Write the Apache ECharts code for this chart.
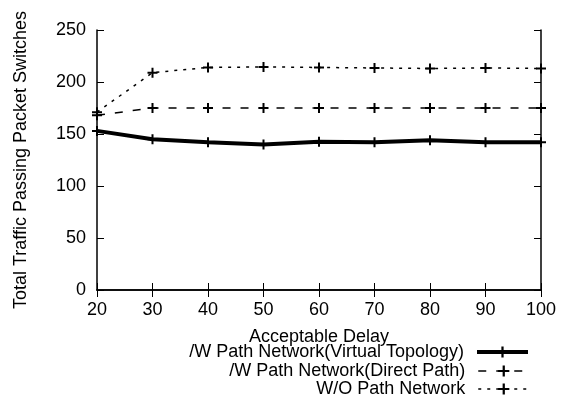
<!DOCTYPE html>
<html>
<head>
<meta charset="utf-8">
<script src="https://cdn.jsdelivr.net/npm/echarts@6/dist/echarts.min.js"></script>
<style>
  html, body { margin: 0; padding: 0; background: #fff; }
  #chart { width: 574px; height: 398px; }
</style>
</head>
<body>
<div id="chart"></div>
<script>
// data
var delays = [20, 30, 40, 50, 60, 70, 80, 90, 100];
var virtualTopology = [153, 145, 142, 140, 142.5, 142, 144, 142, 142];
var directPath = [168, 175, 175, 175, 175, 175, 175, 175, 175];
var withoutPath = [171, 209, 214, 214.5, 214, 213.5, 213, 213.5, 213];

var seriesNames = [
    '/W Path Network(Virtual Topology)',
    '/W Path Network(Direct Path)',
    'W/O Path Network'
];

var plus = 'path://M4,0h2v4h4v2h-4v4h-2v-4h-4v-2h4z';
var font = 'Liberation Sans, Arial, sans-serif';

function pairs(vals) {
    return delays.map(function (d, i) { return [d, vals[i]]; });
}

var chart = echarts.init(document.getElementById('chart'));

var tickStyle = { show: true, inside: true, length: 7, lineStyle: { color: '#000', width: 1 } };
var lineStyle = { show: true, lineStyle: { color: '#000', width: 1.5 } };

// one legend per row so they stack like the gnuplot key
var legendTops = [342, 361, 379];
var legends = seriesNames.map(function (name, i) {
    return {
        orient: 'vertical',
        right: 44, top: legendTops[i],
        padding: 0,
        align: 'right',
        itemWidth: 51, itemHeight: 14,
        lineStyle: { width: 'inherit' },
        textStyle: { color: '#000', fontSize: 18, fontFamily: font, lineHeight: 20, padding: [0, 8, 0, 0] },
        data: [name]
    };
});

var option = {
    animation: false,
    backgroundColor: '#fff',
    textStyle: { fontFamily: font },
    grid: { left: 97, right: 33, top: 30, bottom: 108 },
    xAxis: [{
        type: 'value', min: 20, max: 100, interval: 10,
        axisLine: lineStyle, axisTick: tickStyle, splitLine: { show: false },
        axisLabel: { color: '#000', fontSize: 18, fontFamily: font, margin: 11 }
    }, {
        type: 'value', position: 'top', min: 20, max: 100, interval: 10,
        axisLine: lineStyle, axisTick: tickStyle, splitLine: { show: false },
        axisLabel: { show: false }
    }],
    yAxis: [{
        type: 'value', min: 0, max: 250, interval: 50,
        axisLine: lineStyle, axisTick: tickStyle, splitLine: { show: false },
        axisLabel: { color: '#000', fontSize: 18, fontFamily: font, margin: 11 }
    }, {
        type: 'value', position: 'right', min: 0, max: 250, interval: 50,
        axisLine: lineStyle, axisTick: tickStyle, splitLine: { show: false },
        axisLabel: { show: false }
    }],
    legend: legends,
    graphic: [{
        type: 'text',
        x: 21, y: 160, rotation: Math.PI / 2,
        style: {
            text: 'Total Traffic Passing Packet Switches',
            fill: '#000', font: '18px ' + font,
            textAlign: 'center', textVerticalAlign: 'middle'
        }
    }, {
        type: 'text',
        x: 319, y: 337,
        style: {
            text: 'Acceptable Delay',
            fill: '#000', font: '18px ' + font,
            textAlign: 'center', textVerticalAlign: 'middle'
        }
    }],
    series: [{
        name: seriesNames[0], type: 'line',
        data: pairs(virtualTopology),
        symbol: plus, symbolSize: 10,
        itemStyle: { color: '#000' },
        lineStyle: { color: '#000', width: 4 },
        z: 5
    }, {
        name: seriesNames[1], type: 'line',
        data: pairs(directPath),
        symbol: plus, symbolSize: 10,
        itemStyle: { color: '#000' },
        lineStyle: { color: '#000', width: 1.5, type: [8, 10] }
    }, {
        name: seriesNames[2], type: 'line',
        data: pairs(withoutPath),
        symbol: plus, symbolSize: 10,
        itemStyle: { color: '#000' },
        lineStyle: { color: '#000', width: 1.5, type: [3, 6] }
    }]
};

chart.setOption(option);
</script>
</body>
</html>
